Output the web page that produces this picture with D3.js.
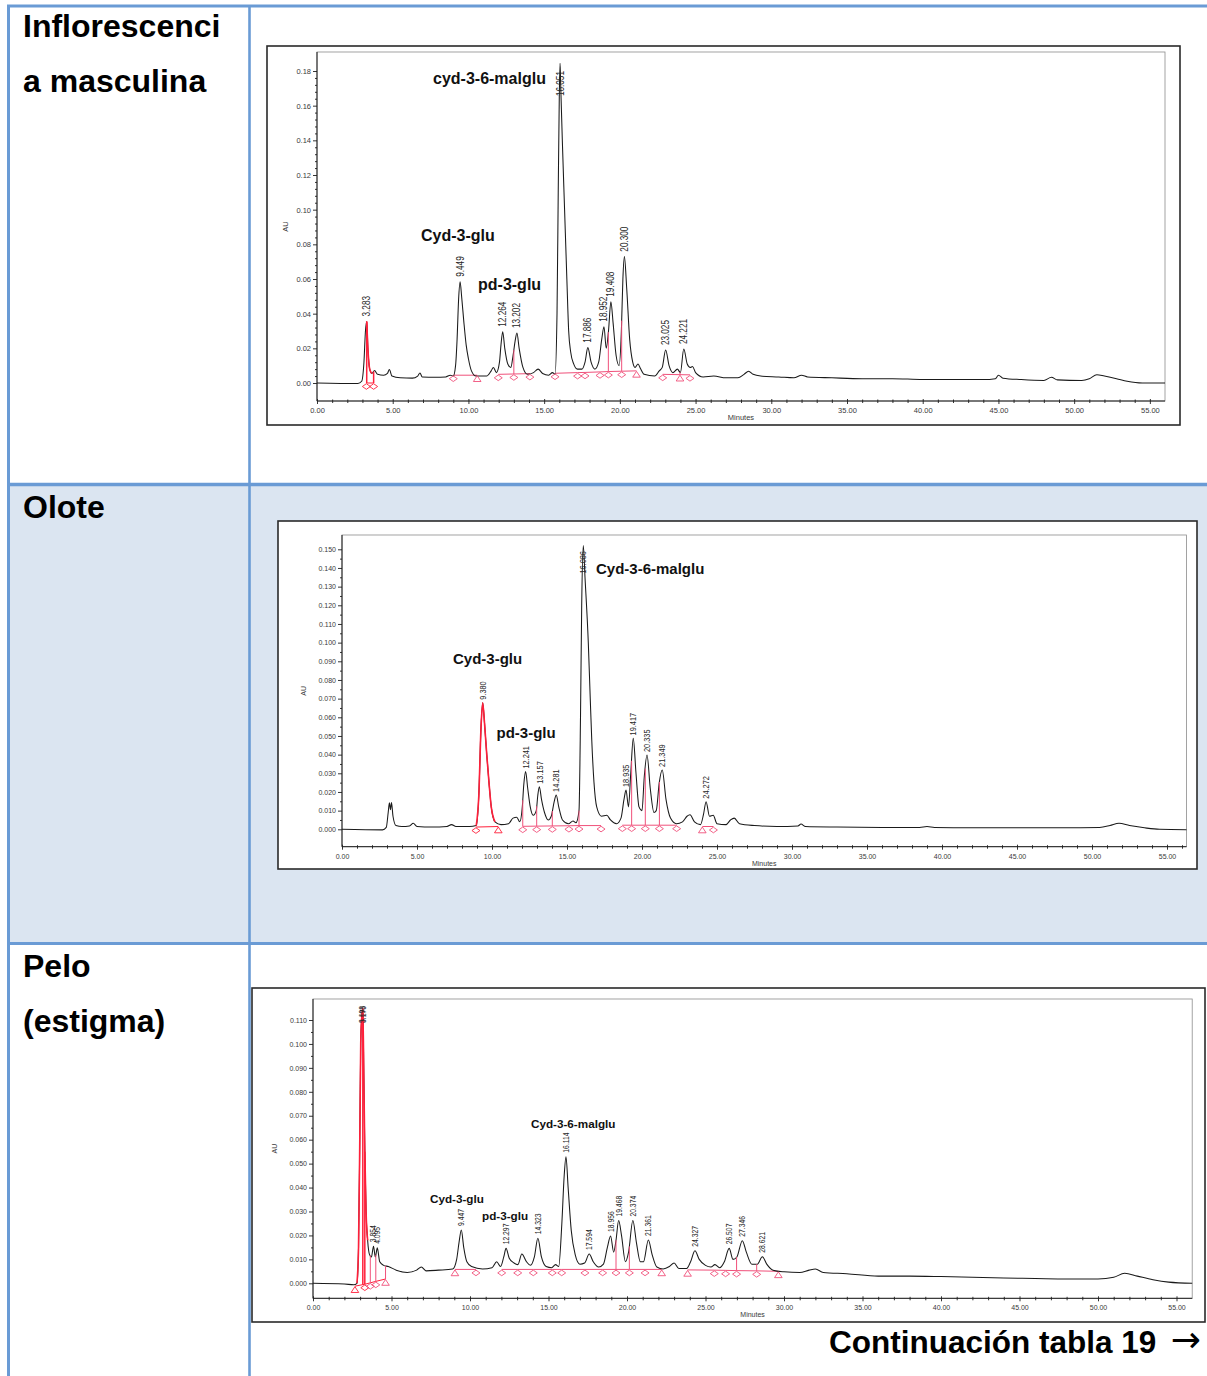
<!DOCTYPE html>
<html lang="es">
<head>
<meta charset="utf-8">
<title>Cromatogramas</title>
<script src="https://cdn.jsdelivr.net/npm/d3@7"></script>
<style>
  html, body { margin: 0; padding: 0; background: #ffffff; }
  svg { display: block; }
</style>
</head>
<body>
<svg id="page" width="1207" height="1376"></svg>
<script>
// ---------- table text ----------
const rowLabels = [["Inflorescenci", "a masculina"], ["Olote"], ["Pelo", "(estigma)"]];
const footText = "Continuación tabla 19";
const footArrow = "→";

// ---------- axis ticks ----------
const xTicks = [0, 5, 10, 15, 20, 25, 30, 35, 40, 45, 50, 55];
const yTicks1 = [0, 0.02, 0.04, 0.06, 0.08, 0.10, 0.12, 0.14, 0.16, 0.18];
const yTicks2 = [0, 0.01, 0.02, 0.03, 0.04, 0.05, 0.06, 0.07, 0.08, 0.09, 0.10, 0.11, 0.12, 0.13, 0.14, 0.15];
const yTicks3 = [0, 0.01, 0.02, 0.03, 0.04, 0.05, 0.06, 0.07, 0.08, 0.09, 0.10, 0.11];

// ---------- compound names ----------
const names1 = ["cyd-3-6-malglu", "Cyd-3-glu", "pd-3-glu"];
const names2 = ["Cyd-3-6-malglu", "Cyd-3-glu", "pd-3-glu"];
const names3 = ["Cyd-3-6-malglu", "Cyd-3-glu", "pd-3-glu"];

// ---------- Inflorescencia masculina ----------
const peakRT1 = [3.283, 9.449, 12.264, 13.202, 16.051, 17.886, 18.952, 19.408, 20.300, 23.025, 24.221];
const peakAU1 = [0.0355, 0.0584, 0.0296, 0.0288, 0.1844, 0.0204, 0.0325, 0.0469, 0.0729, 0.0190, 0.0196];
const trace1 = [[0,0],[2.7,-0.0003],[2.95,0.001],[3.1,0.012],[3.2,0.03],[3.36,0.02],[3.48,0.008],[3.62,0.0055],[3.8,0.0072],[4.0,0.005],[4.4,0.0045],[4.65,0.0055],[4.78,0.0078],[4.95,0.004],[5.5,0.003],[6.3,0.0028],[6.65,0.004],[6.8,0.0058],[6.95,0.0035],[7.8,0.0033],[8.5,0.0035],[8.8,0.0045],[9.0,0.004],[9.15,0.01],[9.25,0.025],[9.35,0.048],[9.55,0.05],[9.7,0.035],[9.85,0.022],[10.0,0.014],[10.2,0.007],[10.5,0.004],[11.2,0.004],[11.5,0.007],[11.65,0.009],[11.85,0.006],[12.05,0.012],[12.15,0.022],[12.4,0.02],[12.6,0.011],[12.8,0.009],[12.95,0.016],[13.08,0.024],[13.35,0.02],[13.6,0.009],[13.9,0.005],[14.3,0.006],[14.6,0.008],[14.9,0.0055],[15.3,0.0045],[15.55,0.006],[15.72,0.005],[15.85,0.04],[15.93,0.11],[16.0,0.165],[16.1,0.17],[16.2,0.14],[16.35,0.1],[16.5,0.06],[16.62,0.03],[16.75,0.018],[16.95,0.011],[17.2,0.008],[17.5,0.008],[17.7,0.012],[18.1,0.012],[18.35,0.008],[18.6,0.012],[18.8,0.025],[19.1,0.02],[19.25,0.03],[19.55,0.035],[19.75,0.016],[19.95,0.01],[20.1,0.03],[20.2,0.06],[20.45,0.055],[20.65,0.025],[20.85,0.012],[21.0,0.009],[21.2,0.011],[21.35,0.0085],[21.6,0.005],[22.3,0.004],[22.6,0.007],[22.8,0.009],[23.25,0.01],[23.5,0.006],[23.8,0.008],[24.0,0.006],[24.45,0.011],[24.65,0.009],[24.8,0.0095],[25.0,0.006],[25.5,0.0035],[26.2,0.004],[27.0,0.003],[27.8,0.003],[28.2,0.005],[28.5,0.0068],[28.8,0.005],[29.3,0.004],[30.5,0.0035],[31.5,0.003],[32.0,0.0045],[32.4,0.0035],[34,0.003],[36,0.0025],[38,0.0025],[40,0.002],[42,0.002],[44,0.002],[44.8,0.0025],[45.0,0.0045],[45.3,0.0028],[46.5,0.002],[48.0,0.0015],[48.5,0.0033],[48.9,0.0018],[50.5,0.0015],[51.0,0.0025],[51.5,0.0048],[52.0,0.004],[52.8,0.0025],[53.5,0.001],[54.5,0.0],[56.0,0.0]];
// integration events: time, baseline level, marker shape (d = start/valley, t = end), segment id
const mark1T = [3.26, 3.74, 9.0, 10.58, 11.97, 13.0, 14.06, 15.72, 17.21, 17.7, 18.69, 19.24, 20.12, 21.1, 22.83, 23.97, 24.63];
const mark1AU = [0.0, 0.0, 0.0045, 0.0045, 0.005, 0.0052, 0.0054, 0.0056, 0.006, 0.0061, 0.0064, 0.0066, 0.0068, 0.007, 0.005, 0.0048, 0.0047];
const mark1S = ["d","d","d","t","d","d","d","d","d","d","d","d","d","t","d","t","d"];
const mark1G = [0,0,1,1,2,2,2,3,3,3,3,3,3,3,4,4,4];
const drop1T = [3.283, 3.74, 13.0, 19.24, 20.12, 23.97];
const redSpan1 = [3.25, 3.76];

// ---------- Olote ----------
const peakRT2 = [9.380, 12.241, 13.157, 14.281, 16.086, 18.935, 19.417, 20.335, 21.349, 24.272];
const peakAU2 = [0.0678, 0.0309, 0.0228, 0.0184, 0.1520, 0.0210, 0.0487, 0.0398, 0.0318, 0.0148];
const trace2 = [[0,0],[2.7,-0.0003],[2.95,0.001],[3.08,0.009],[3.16,0.0142],[3.23,0.0105],[3.3,0.0143],[3.4,0.007],[3.6,0.002],[4.0,0.0015],[4.5,0.0018],[4.75,0.0032],[5.0,0.0015],[6.0,0.0012],[7.0,0.0015],[7.3,0.0025],[7.6,0.0015],[8.5,0.0015],[8.95,0.002],[9.12,0.018],[9.27,0.055],[9.5,0.057],[9.65,0.04],[9.8,0.025],[9.95,0.012],[10.2,0.004],[10.6,0.0025],[11.1,0.003],[11.4,0.006],[11.65,0.0065],[11.85,0.004],[12.02,0.012],[12.12,0.024],[12.38,0.022],[12.55,0.012],[12.75,0.0075],[12.95,0.01],[13.05,0.018],[13.3,0.016],[13.5,0.009],[13.75,0.005],[13.95,0.007],[14.15,0.015],[14.45,0.012],[14.7,0.005],[15.1,0.003],[15.4,0.0045],[15.6,0.0035],[15.8,0.01],[15.9,0.06],[15.98,0.12],[16.2,0.135],[16.42,0.1],[16.55,0.07],[16.65,0.048],[16.8,0.025],[16.98,0.012],[17.3,0.007],[17.65,0.0075],[17.9,0.005],[18.3,0.003],[18.6,0.006],[18.8,0.016],[19.1,0.012],[19.25,0.03],[19.6,0.03],[19.8,0.012],[20.0,0.01],[20.15,0.028],[20.55,0.022],[20.8,0.009],[20.95,0.01],[21.15,0.025],[21.6,0.016],[21.9,0.006],[22.3,0.003],[22.7,0.004],[23.0,0.007],[23.2,0.0078],[23.5,0.004],[23.9,0.0025],[24.1,0.008],[24.5,0.007],[24.75,0.0075],[25.0,0.003],[25.6,0.0025],[25.9,0.005],[26.15,0.006],[26.5,0.003],[27.5,0.002],[29,0.0015],[30.4,0.0018],[30.6,0.0028],[30.9,0.0015],[33,0.0012],[36,0.001],[38.5,0.001],[39,0.0015],[39.5,0.001],[42,0.0008],[45,0.0008],[48,0.0008],[50.5,0.001],[51.2,0.002],[51.8,0.0032],[52.5,0.002],[53.5,0.0008],[54.5,0.0],[56.3,-0.0002]];
const mark2T = [8.93, 10.42, 12.05, 12.98, 14.02, 15.13, 15.8, 17.27, 18.69, 19.31, 20.22, 21.16, 22.31, 24.02, 24.76];
const mark2AU = [0.0012, 0.0015, 0.0016, 0.0017, 0.0018, 0.0019, 0.002, 0.002, 0.0022, 0.0022, 0.0022, 0.0022, 0.0022, 0.0015, 0.0015];
const mark2S = ["d","t","d","d","d","d","d","d","d","d","d","d","d","t","d"];
const mark2G = [0,0,1,1,1,1,1,1,2,2,2,2,2,3,3];
const drop2T = [12.05, 12.98, 14.02, 15.8, 19.31, 20.22, 21.16];
const redSpan2 = [8.93, 10.42];

// ---------- Pelo (estigma) ----------
const peakRT3 = [3.098, 3.173, 3.854, 4.095, 9.447, 12.297, 14.323, 16.114, 17.594, 18.956, 19.468, 20.374, 21.361, 24.327, 26.507, 27.346, 28.621];
const peakAU3 = [0.1105, 0.1149, 0.0155, 0.0148, 0.0223, 0.0146, 0.0188, 0.0529, 0.0122, 0.0198, 0.0262, 0.0262, 0.0181, 0.0136, 0.0146, 0.0178, 0.0111];
const trace3 = [[0,0],[2.0,-0.0003],[2.6,-0.0006],[2.8,0.0],[2.9,0.015],[2.98,0.06],[3.04,0.1],[3.24,0.085],[3.3,0.055],[3.38,0.03],[3.48,0.018],[3.6,0.012],[3.72,0.011],[3.97,0.011],[4.25,0.009],[4.5,0.0075],[4.8,0.007],[5.3,0.0055],[6.0,0.0045],[6.6,0.0055],[6.9,0.0068],[7.2,0.0052],[8.0,0.0055],[8.9,0.006],[9.15,0.01],[9.3,0.017],[9.6,0.015],[9.8,0.009],[10.1,0.007],[10.8,0.006],[11.4,0.0065],[11.7,0.009],[11.95,0.007],[12.15,0.011],[12.5,0.0105],[12.8,0.0085],[13.05,0.0078],[13.3,0.0122],[13.6,0.009],[13.85,0.0075],[14.1,0.011],[14.55,0.011],[14.85,0.007],[15.2,0.0065],[15.45,0.0078],[15.65,0.007],[15.85,0.025],[16.0,0.045],[16.25,0.04],[16.45,0.022],[16.7,0.012],[17.0,0.008],[17.3,0.0085],[17.85,0.009],[18.2,0.0068],[18.5,0.008],[18.75,0.015],[19.15,0.013],[19.3,0.018],[19.65,0.02],[19.9,0.009],[20.1,0.013],[20.6,0.017],[20.85,0.009],[21.05,0.009],[21.6,0.012],[21.9,0.0068],[22.3,0.006],[22.7,0.007],[23.0,0.0085],[23.3,0.0062],[23.8,0.0062],[24.05,0.009],[24.6,0.01],[25.0,0.0075],[25.35,0.0068],[25.6,0.0078],[25.9,0.0065],[26.2,0.009],[26.75,0.01],[27.0,0.011],[27.6,0.013],[27.95,0.008],[28.3,0.008],[28.9,0.008],[29.3,0.0055],[30.0,0.0048],[31.0,0.0045],[31.6,0.0055],[32.0,0.006],[32.5,0.0045],[34,0.004],[36,0.003],[38,0.003],[40,0.0028],[42,0.0025],[44,0.0022],[46,0.002],[48,0.0018],[50,0.0018],[51.0,0.0025],[51.7,0.0042],[52.5,0.003],[53.5,0.0015],[54.5,0.0005],[56.0,0.0]];
const mark3T = [2.67, 3.3, 3.65, 4.0, 4.62, 9.04, 10.38, 12.02, 13.04, 14.03, 15.24, 15.84, 17.32, 18.45, 19.3, 20.15, 21.15, 22.21, 23.86, 25.56, 26.28, 26.98, 28.26, 29.64];
const mark3AU = [-0.0012, -0.0004, 0.0002, 0.0008, 0.0018, 0.0058, 0.0058, 0.0058, 0.0058, 0.0058, 0.0058, 0.0058, 0.0058, 0.0058, 0.0058, 0.0058, 0.0058, 0.0058, 0.0056, 0.0055, 0.0054, 0.0053, 0.0052, 0.005];
const mark3S = ["t","d","d","d","t","t","d","d","d","d","d","d","d","d","d","d","d","t","t","d","d","d","d","t"];
const mark3G = [0,0,0,0,0,1,1,2,2,2,2,2,2,2,2,2,2,2,3,3,3,3,3,3];
const drop3T = [3.173, 3.3, 3.65, 4.0, 4.62, 19.3, 20.15, 26.98, 28.26];
const redSpan3 = [2.62, 3.5];

// ---------- page layout ----------
const svg = d3.select("#page");
const BORDER = "#6a9bd5";
const ROW_FILL = "#dbe5f1";
const PINK = "#f0507a";
const RED = "#ff1f3a";
const FONT = "'Liberation Sans', Arial, Helvetica, sans-serif";

svg.append("rect").attr("x", 0).attr("y", 0).attr("width", 1207).attr("height", 1376).attr("fill", "#ffffff");
svg.append("rect").attr("x", 10).attr("y", 486).attr("width", 1197).attr("height", 456).attr("fill", ROW_FILL);

const layouts = [
  { frame: [267, 46, 1180, 425], left: 317, right: 1165, top: 52, axisY: 401, zeroY: 383, refY: 71, yRef: 0.18,
    xMax: 56.0, yFmt: ".2f", yMinorStep: 0.004, tickFont: 7.5, rtFont: 10, rtGap: 5, rtTopMin: 71,
    auX: 288, nameFont: 16, namePos: [[433, 83.5], [421, 240.5], [478, 290]] },
  { frame: [278, 521, 1197, 869], left: 342, right: 1186.5, top: 535, axisY: 846.7, zeroY: 829.3, refY: 549.3, yRef: 0.15,
    xMax: 56.3, yFmt: ".3f", yMinorStep: 0.005, tickFont: 7, rtFont: 9, rtGap: 3, rtTopMin: 551,
    auX: 306, nameFont: 15, namePos: [[596, 574], [453, 663.5], [496.5, 737.5]] },
  { frame: [252, 988, 1205, 1322], left: 313, right: 1192.2, top: 999, axisY: 1298.3, zeroY: 1283.3, refY: 1020, yRef: 0.11,
    xMax: 56.0, yFmt: ".3f", yMinorStep: 0.005, tickFont: 7, rtFont: 8.3, rtGap: 4, rtTopMin: 1006,
    auX: 277, nameFont: 11.7, namePos: [[531, 1127.5], [430, 1203], [482, 1220]] }
];

const chartData = [
  { yTicks: yTicks1, names: names1, peakRT: peakRT1, peakAU: peakAU1, trace: trace1,
    markT: mark1T, markAU: mark1AU, markS: mark1S, markG: mark1G, dropT: drop1T, redSpan: redSpan1 },
  { yTicks: yTicks2, names: names2, peakRT: peakRT2, peakAU: peakAU2, trace: trace2,
    markT: mark2T, markAU: mark2AU, markS: mark2S, markG: mark2G, dropT: drop2T, redSpan: redSpan2 },
  { yTicks: yTicks3, names: names3, peakRT: peakRT3, peakAU: peakAU3, trace: trace3,
    markT: mark3T, markAU: mark3AU, markS: mark3S, markG: mark3G, dropT: drop3T, redSpan: redSpan3 }
];

function drawChart(L, D) {
  const g = svg.append("g").attr("font-family", FONT);
  const [fx0, fy0, fx1, fy1] = L.frame;
  g.append("rect").attr("x", fx0).attr("y", fy0).attr("width", fx1 - fx0).attr("height", fy1 - fy0)
    .attr("fill", "#ffffff").attr("stroke", "#2a2a2a").attr("stroke-width", 1.6);

  const x = d3.scaleLinear().domain([0, L.xMax]).range([L.left, L.right]);
  const y = d3.scaleLinear().domain([0, L.yRef]).range([L.zeroY, L.refY]);

  // plot box
  g.append("rect").attr("x", L.left).attr("y", L.top).attr("width", L.right - L.left).attr("height", L.axisY - L.top)
    .attr("fill", "none").attr("stroke", "#8c8c8c").attr("stroke-width", 0.8);
  g.append("line").attr("x1", L.left).attr("x2", L.left).attr("y1", L.top).attr("y2", L.axisY)
    .attr("stroke", "#1e1e1e").attr("stroke-width", 1);
  g.append("line").attr("x1", L.left).attr("x2", L.right).attr("y1", L.axisY).attr("y2", L.axisY)
    .attr("stroke", "#1e1e1e").attr("stroke-width", 1);

  // y axis
  const yMinor = d3.range(0, L.yRef + 1e-9, L.yMinorStep)
    .filter(v => !D.yTicks.some(t => Math.abs(t - v) < 1e-9));
  const ya = g.append("g").attr("transform", `translate(${L.left},0)`)
    .call(d3.axisLeft(y).tickValues(D.yTicks).tickSize(4).tickPadding(2).tickFormat(d3.format(L.yFmt)));
  const ym = g.append("g").attr("transform", `translate(${L.left},0)`)
    .call(d3.axisLeft(y).tickValues(yMinor).tickSize(2).tickFormat(""));

  // x axis
  const xMinor = d3.range(0, L.xMax, 1).filter(v => v % 5 !== 0);
  const xa = g.append("g").attr("transform", `translate(0,${L.axisY})`)
    .call(d3.axisBottom(x).tickValues(xTicks).tickSize(3).tickPadding(4).tickFormat(d3.format(".2f")));
  const xm = g.append("g").attr("transform", `translate(0,${L.axisY})`)
    .call(d3.axisBottom(x).tickValues(xMinor).tickSize(2).tickFormat(""));
  xa.selectAll(".tick line").attr("y1", -2);
  xm.selectAll(".tick line").attr("y1", -1.5);

  [ya, ym, xa, xm].forEach(a => {
    a.select(".domain").remove();
    a.selectAll(".tick line").attr("stroke", "#1e1e1e").attr("stroke-width", 0.9);
    a.selectAll("text").attr("font-family", FONT).attr("font-size", L.tickFont).attr("fill", "#3a3a3a");
  });

  // axis titles
  g.append("text").attr("transform", `translate(${L.auX},${(L.top + L.axisY) / 2}) rotate(-90)`)
    .attr("text-anchor", "middle").attr("font-size", L.tickFont).attr("fill", "#3a3a3a").text("AU");
  g.append("text").attr("x", (L.left + L.right) / 2).attr("y", L.axisY + 19)
    .attr("text-anchor", "middle").attr("font-size", L.tickFont).attr("fill", "#3a3a3a").text("Minutes");

  // trace: baseline points merged with peak apexes
  const pts = D.trace.concat(D.peakRT.map((t, i) => [t, D.peakAU[i]])).sort((a, b) => a[0] - b[0]);
  const line = d3.line().x(d => x(d[0])).y(d => y(d[1])).curve(d3.curveMonotoneX);
  const bis = d3.bisector(d => d[0]).left;
  const valueAt = t => {
    const i = bis(pts, t);
    if (i <= 0) return pts[0][1];
    if (i >= pts.length) return pts[pts.length - 1][1];
    const a = pts[i - 1], b = pts[i];
    return a[1] + (b[1] - a[1]) * (t - a[0]) / (b[0] - a[0]);
  };

  // integration baselines
  const marks = D.markT.map((t, i) => ({ t, v: D.markAU[i], s: D.markS[i], grp: D.markG[i] }));
  const groups = d3.groups(marks, m => m.grp);
  const isRed = t => t >= D.redSpan[0] && t <= D.redSpan[1];
  const baseAt = t => {
    for (const [, ms] of groups) {
      if (t >= ms[0].t - 1e-6 && t <= ms[ms.length - 1].t + 1e-6) {
        for (let k = 1; k < ms.length; k++) {
          if (t <= ms[k].t + 1e-6) {
            const a = ms[k - 1], b = ms[k];
            return a.v + (b.v - a.v) * (t - a.t) / (b.t - a.t || 1);
          }
        }
      }
    }
    return 0;
  };
  const segLine = d3.line().x(m => x(m.t)).y(m => y(m.v));
  groups.forEach(([, ms]) => {
    g.append("path").attr("d", segLine(ms)).attr("fill", "none")
      .attr("stroke", isRed(ms[0].t) ? RED : PINK).attr("stroke-width", 1);
  });

  g.append("path").attr("d", line(pts)).attr("fill", "none").attr("stroke", "#1a1a1a").attr("stroke-width", 1.05);

  // highlighted peak
  const redPts = pts.filter(d => d[0] >= D.redSpan[0] && d[0] <= D.redSpan[1]);
  g.append("path").attr("d", line(redPts)).attr("fill", "none").attr("stroke", RED).attr("stroke-width", 1.6);

  // drop lines
  D.dropT.forEach(t => {
    g.append("line").attr("x1", x(t)).attr("x2", x(t)).attr("y1", y(baseAt(t))).attr("y2", y(valueAt(t)))
      .attr("stroke", isRed(t) ? RED : PINK).attr("stroke-width", isRed(t) ? 1.5 : 1);
  });

  // markers
  const diamond = "M-4,0L0,-2.8L4,0L0,2.8Z";
  const tri = "M-3.8,2.8L0,-3L3.8,2.8Z";
  marks.forEach(m => {
    g.append("path").attr("d", m.s === "t" ? tri : diamond)
      .attr("transform", `translate(${x(m.t)},${y(m.v) + 3.5})`)
      .attr("fill", "none").attr("stroke", isRed(m.t) ? RED : PINK).attr("stroke-width", 0.9);
  });

  // retention time labels
  const fmt = d3.format(".3f");
  D.peakRT.forEach((t, i) => {
    const px = x(t), py = y(D.peakAU[i]);
    const txt = g.append("text").attr("font-size", L.rtFont).attr("fill", "#262626").attr("dy", "0.35em").text(fmt(t));
    const len = txt.node().getComputedTextLength() * 0.82;
    let bottom = py - L.rtGap;
    if (bottom - len < L.rtTopMin) bottom = L.rtTopMin + len;
    txt.attr("transform", `translate(${px},${bottom}) rotate(-90) scale(0.82,1)`);
  });

  // compound names
  D.names.forEach((n, i) => {
    g.append("text").attr("x", L.namePos[i][0]).attr("y", L.namePos[i][1])
      .attr("font-size", L.nameFont).attr("font-weight", "bold").attr("fill", "#111").text(n);
  });
}

layouts.forEach((L, i) => drawChart(L, chartData[i]));

// ---------- table grid ----------
const grid = svg.append("g").attr("stroke", BORDER);
grid.append("line").attr("x1", 7).attr("x2", 1207).attr("y1", 6).attr("y2", 6).attr("stroke-width", 3);
grid.append("line").attr("x1", 8.5).attr("x2", 8.5).attr("y1", 5).attr("y2", 1376).attr("stroke-width", 3);
grid.append("line").attr("x1", 249.5).attr("x2", 249.5).attr("y1", 5).attr("y2", 1376).attr("stroke-width", 2.6);
grid.append("line").attr("x1", 7).attr("x2", 1207).attr("y1", 484.5).attr("y2", 484.5).attr("stroke-width", 3.5);
grid.append("line").attr("x1", 7).attr("x2", 1207).attr("y1", 943.5).attr("y2", 943.5).attr("stroke-width", 3);

// ---------- row labels ----------
const labelBase = [[37, 92], [518], [977, 1032]];
rowLabels.forEach((lines, r) => {
  lines.forEach((s, k) => {
    svg.append("text").attr("x", 23).attr("y", labelBase[r][k])
      .attr("font-family", FONT).attr("font-size", 32).attr("font-weight", "bold").attr("fill", "#000").text(s);
  });
});

// ---------- continuation note ----------
svg.append("text").attr("x", 829).attr("y", 1353)
  .attr("font-family", FONT).attr("font-size", 31.5).attr("font-weight", "bold").attr("fill", "#000").text(footText);
svg.append("text").attr("x", 1201).attr("y", 1352).attr("text-anchor", "end")
  .attr("font-family", "'DejaVu Sans', sans-serif").attr("font-size", 36).attr("fill", "#000").text(footArrow);
</script>
</body>
</html>
